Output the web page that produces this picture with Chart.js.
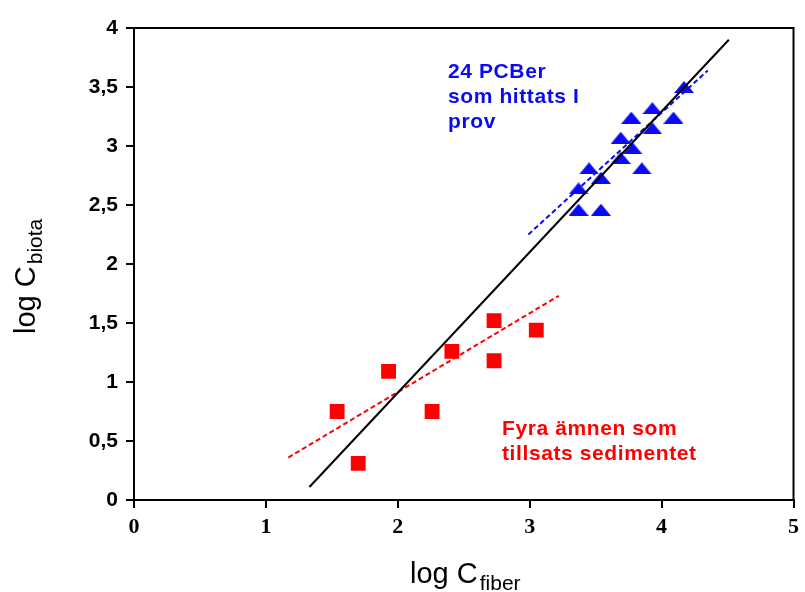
<!DOCTYPE html>
<html>
<head>
<meta charset="utf-8">
<script src="https://cdn.jsdelivr.net/npm/chart.js@4"></script>
<style>
  html, body { margin: 0; padding: 0; background: #fff; }
  #wrap { width: 805px; height: 592px; }
</style>
</head>
<body>
<div id="wrap"><canvas id="chart" width="805" height="592"></canvas></div>
<script>
// log C_fiber / log C_biota
const pcbX = [4.17, 3.93, 3.77, 4.09, 3.93, 3.69, 3.78, 3.69, 3.85, 3.45, 3.54, 3.37, 3.37, 3.54];
const pcbY = [3.50, 3.32, 3.24, 3.24, 3.15, 3.07, 2.98, 2.90, 2.81, 2.81, 2.73, 2.64, 2.46, 2.46];

const fyraX = [1.54, 1.70, 1.93, 2.26, 2.41, 2.73, 2.73, 3.05];
const fyraY = [0.75, 0.31, 1.09, 0.75, 1.26, 1.52, 1.18, 1.44];

// regression lines (end points)
const allFitX = [1.33, 4.51];
const allFitY = [0.11, 3.90];
const pcbFitX = [2.99, 4.35];
const pcbFitY = [2.25, 3.64];
const fyraFitX = [1.17, 3.22];
const fyraFitY = [0.36, 1.73];

const xTicks = [0, 1, 2, 3, 4, 5];
const yTicks = [0, 0.5, 1, 1.5, 2, 2.5, 3, 3.5, 4];

const BLUE = "#0a0af5";
const RED = "#ff0000";

const pts = (xs, ys) => xs.map((x, i) => ({ x: x, y: ys[i] }));

// squat triangle marker like the original
const tri = document.createElement("canvas");
tri.width = 20;
tri.height = 12;
const tctx = tri.getContext("2d");
tctx.fillStyle = BLUE;
tctx.beginPath();
tctx.moveTo(10, 0);
tctx.lineTo(20, 12);
tctx.lineTo(0, 12);
tctx.closePath();
tctx.fill();

const frameAndText = {
  id: "frameAndText",
  afterDraw(chart) {
    const ctx = chart.ctx;
    const a = chart.chartArea;
    ctx.save();
    ctx.strokeStyle = "#000";
    ctx.lineWidth = 2;
    ctx.strokeRect(a.left, a.top, a.right - a.left, a.bottom - a.top);

    // annotations
    ctx.textBaseline = "alphabetic";
    ctx.textAlign = "left";
    ctx.font = "bold 21px 'Liberation Sans', Arial, sans-serif";
    ctx.letterSpacing = "0.6px";
    ctx.fillStyle = BLUE;
    ["24 PCBer", "som hittats I", "prov"].forEach((t, i) => ctx.fillText(t, 448, 78 + i * 25));
    ctx.fillStyle = RED;
    ["Fyra ämnen som", "tillsats sedimentet"].forEach((t, i) => ctx.fillText(t, 502, 435 + i * 25));
    ctx.letterSpacing = "0px";

    // axis titles with subscripts
    ctx.fillStyle = "#000";
    ctx.font = "29px 'Liberation Sans', Arial, sans-serif";
    ctx.fillText("log C", 410, 583);
    let w = ctx.measureText("log C").width;
    ctx.font = "21px 'Liberation Sans', Arial, sans-serif";
    ctx.fillText("fiber", 410 + w + 2, 590);

    ctx.translate(35, 334);
    ctx.rotate(-Math.PI / 2);
    ctx.font = "29px 'Liberation Sans', Arial, sans-serif";
    ctx.fillText("log C", 0, 0);
    w = ctx.measureText("log C").width;
    ctx.font = "21px 'Liberation Sans', Arial, sans-serif";
    ctx.fillText("biota", w + 2, 7);
    ctx.restore();
  }
};

new Chart(document.getElementById("chart"), {
  type: "scatter",
  data: {
    datasets: [
      {
        data: pts(allFitX, allFitY),
        showLine: true,
        borderColor: "#000",
        borderWidth: 2,
        pointRadius: 0,
        order: 2,
      },
      {
        data: pts(pcbFitX, pcbFitY),
        showLine: true,
        borderColor: BLUE,
        borderWidth: 2,
        borderDash: [5, 3],
        pointRadius: 0,
        order: 3,
      },
      {
        data: pts(fyraFitX, fyraFitY),
        showLine: true,
        borderColor: RED,
        borderWidth: 2,
        borderDash: [5, 3],
        pointRadius: 0,
        order: 3,
      },
      {
        data: pts(pcbX, pcbY),
        pointStyle: tri,
        pointRadius: 9,
        order: 4,
      },
      {
        data: pts(fyraX, fyraY),
        pointStyle: "rect",
        pointRadius: 10.5,
        borderWidth: 0,
        backgroundColor: RED,
        borderColor: RED,
        order: 1,
      },
    ],
  },
  options: {
    responsive: false,
    animation: false,
    layout: { padding: { left: 0, right: 11, top: 28, bottom: 0 } },
    plugins: { legend: { display: false }, tooltip: { enabled: false } },
    scales: {
      x: {
        type: "linear",
        min: 0,
        max: 5,
        afterFit: (s) => { s.height = 92; },
        afterBuildTicks: (s) => { s.ticks = xTicks.map((v) => ({ value: v })); },
        grid: { drawOnChartArea: false, drawTicks: true, tickLength: 8, color: "#000", lineWidth: 2 },
        border: { display: true, color: "#000", width: 2 },
        ticks: {
          color: "#000",
          padding: 6,
          maxRotation: 0,
          font: { family: "'Liberation Serif', 'Times New Roman', serif", weight: "bold", size: 22 },
          callback: (v) => String(v),
        },
      },
      y: {
        type: "linear",
        min: 0,
        max: 4,
        afterFit: (s) => { s.width = 134; },
        afterBuildTicks: (s) => { s.ticks = yTicks.map((v) => ({ value: v })); },
        grid: { drawOnChartArea: false, drawTicks: true, tickLength: 8, color: "#000", lineWidth: 2 },
        border: { display: true, color: "#000", width: 2 },
        ticks: {
          color: "#000",
          padding: 8,
          font: { family: "'Liberation Sans', Arial, sans-serif", weight: "bold", size: 21 },
          callback: (v) => String(v).replace(".", ","),
        },
      },
    },
  },
  plugins: [frameAndText],
});
</script>
</body>
</html>
